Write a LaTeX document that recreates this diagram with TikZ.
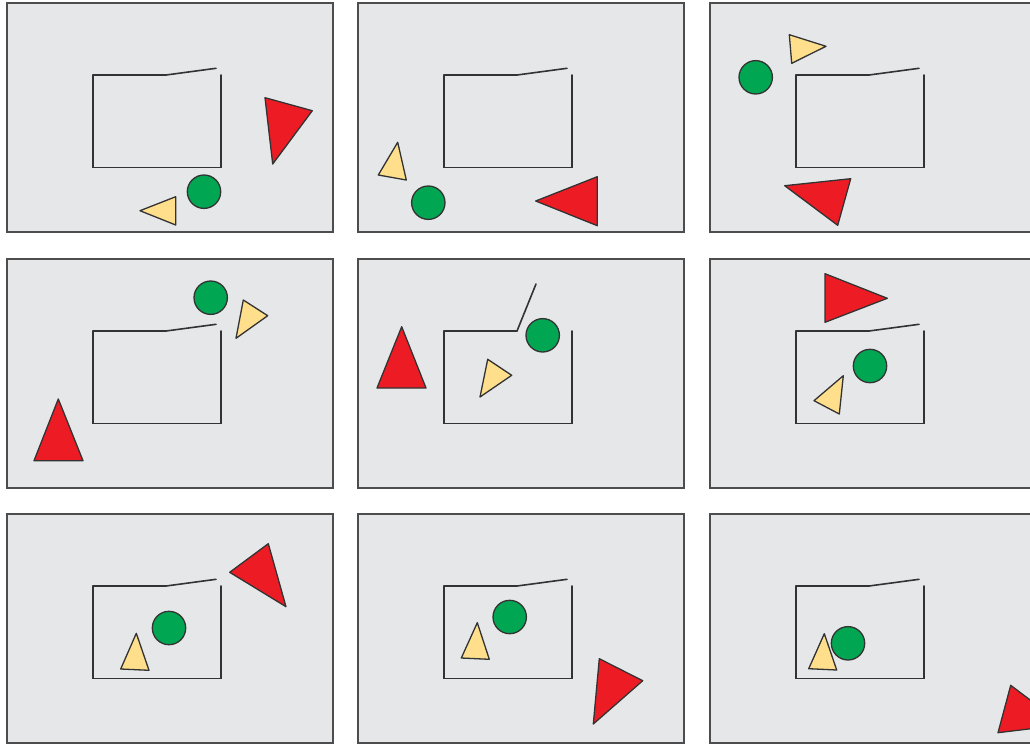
\documentclass[tikz,border=0pt]{standalone}
\begin{document}
\definecolor{panelfill}{HTML}{E6E7E8}
\definecolor{panelline}{HTML}{4D4D4D}
\definecolor{redtri}{HTML}{ED1C24}
\definecolor{greenball}{HTML}{00A651}
\definecolor{yellowtri}{HTML}{FFDE8C}
\definecolor{ink}{HTML}{333333}
\newcommand\drawhouse[2]{%
  \draw[wall] (#1) ++(86,72) -- ++(0,92.3) -- ++(128,0) -- ++(0,-92.3);
  \draw[wall] (#1) ++(86,72) -- ++(73,0);
  \draw[wall] (#1) ++(159,72) -- ++(#2);
}
\begin{tikzpicture}[x=1pt,y=-1pt,
  panel/.style={fill=panelfill,draw=panelline,line width=1.3pt},
  wall/.style={draw=ink,line width=1.6pt,line cap=round,line join=miter},
  ball/.style={fill=greenball,draw=ink,line width=1.3pt},
  small/.style={fill=yellowtri,draw=ink,line width=1.3pt,line join=round},
  big/.style={fill=redtri,draw=ink,line width=1.3pt,line join=round}]
\useasboundingbox (0,0) rectangle (1030,744);
\clip (0,0) rectangle (1030,744);
% panel origins
\coordinate (p1) at (7,3);
\coordinate (p2) at (358,3);
\coordinate (p3) at (710,3);
\coordinate (p4) at (7,259);
\coordinate (p5) at (358,259);
\coordinate (p6) at (710,259);
\coordinate (p7) at (7,514);
\coordinate (p8) at (358,514);
\coordinate (p9) at (710,514);
\foreach \p in {p1,p2,p3,p4,p5,p6,p7,p8,p9}{
  \draw[panel] (\p) rectangle ++(326,229);
}
\drawhouse{p1}{50,-6.7}
\drawhouse{p2}{50,-6.7}
\drawhouse{p3}{50,-6.7}
\drawhouse{p4}{50,-6.7}
\drawhouse{p5}{19,-47}
\drawhouse{p6}{50,-6.7}
\drawhouse{p7}{50,-6.7}
\drawhouse{p8}{50,-6.7}
\drawhouse{p9}{50,-6.7}
% panel 1
\draw[big] (265,97.7) -- (312.3,110.7) -- (272.7,164) -- cycle;
\draw[ball] (204,191.7) circle (16.7);
\draw[small] (140,210.7) -- (175.7,196.7) -- (175.7,225) -- cycle;
% panel 2
\draw[small] (378.3,175) -- (397.7,142.3) -- (406.3,180) -- cycle;
\draw[ball] (428.3,202.7) circle (16.7);
\draw[big] (535.7,201) -- (597.3,176.7) -- (597.3,225.7) -- cycle;
% panel 3
\draw[small] (789.3,34.7) -- (826,46.3) -- (791.7,63.3) -- cycle;
\draw[ball] (755.7,77.3) circle (16.7);
\draw[big] (784.7,185.7) -- (850.7,178.7) -- (837.7,225.3) -- cycle;
% panel 4
\draw[ball] (210.7,297.7) circle (16.7);
\draw[small] (243.3,300) -- (267.7,315.7) -- (236,338.3) -- cycle;
\draw[big] (58.3,399) -- (83,460.7) -- (34,460.7) -- cycle;
% panel 5
\draw[big] (401.7,326.7) -- (426,388) -- (377,388) -- cycle;
\draw[small] (487.7,359.3) -- (511.7,375.3) -- (480,397) -- cycle;
\draw[ball] (542.7,335.3) circle (16.7);
% panel 6
\draw[big] (825,273.7) -- (887.3,298.3) -- (825,322.3) -- cycle;
\draw[ball] (870,366) circle (16.7);
\draw[small] (843.3,375.7) -- (839.3,414) -- (814,400.7) -- cycle;
% panel 7
\draw[big] (268.3,543.7) -- (286,606.7) -- (229.7,572.3) -- cycle;
\draw[ball] (169,628) circle (16.7);
\draw[small] (136.3,633.3) -- (149,670.3) -- (120.7,669) -- cycle;
% panel 8
\draw[ball] (509.7,617) circle (16.7);
\draw[small] (477.3,622.7) -- (489.3,659.3) -- (461.3,658) -- cycle;
\draw[big] (599.3,658.7) -- (642.7,680.7) -- (593.3,724) -- cycle;
% panel 9
\draw[small] (824.3,633.7) -- (836.7,670) -- (808.7,668.7) -- cycle;
\draw[ball] (848,643.3) circle (16.7);
\draw[big] (1010.7,685.3) -- (1063,724.8) -- (998,732.7) -- cycle;
\end{tikzpicture}
\end{document}
